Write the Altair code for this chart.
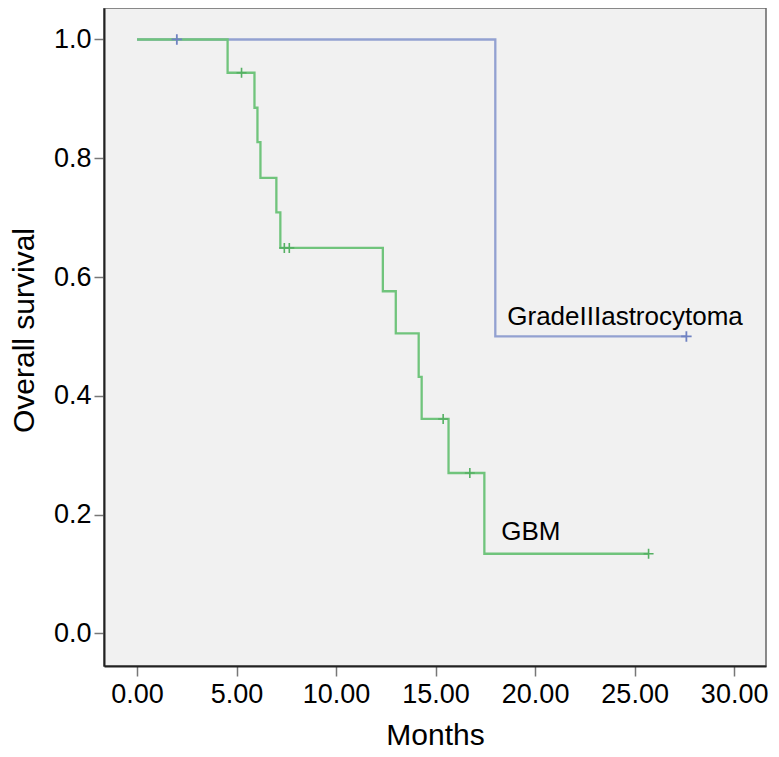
import altair as alt
import pandas as pd

# GBM Kaplan-Meier step curve
gbm_time = [0, 4.55, 5.9, 6.05, 6.2, 7.0, 7.2, 12.35, 13.0, 14.15, 14.3, 15.65, 17.45, 25.7]
gbm_surv = [1.0, 0.944, 0.885, 0.827, 0.767, 0.709, 0.649, 0.576, 0.505, 0.432, 0.361, 0.270, 0.134, 0.134]
gbm_cens_time = [5.25, 7.4, 7.65, 15.38, 16.72, 25.7]
gbm_cens_surv = [0.944, 0.649, 0.649, 0.361, 0.270, 0.134]

# Grade III astrocytoma
ast_time = [0, 18.0, 27.6]
ast_surv = [1.0, 0.5, 0.5]
ast_cens_time = [2.0, 27.6]
ast_cens_surv = [1.0, 0.5]

labels = ["GradeIIIastrocytoma", "GBM"]
label_x = [18.6, 18.3]
label_y = [0.52, 0.157]

x_ticks = [0, 5, 10, 15, 20, 25, 30]
y_ticks = [0.0, 0.2, 0.4, 0.6, 0.8, 1.0]

BLUE_LINE = "#93a1d1"
BLUE_MARK = "#6f82c2"
GREEN_LINE = "#70c47c"
GREEN_MARK = "#55b063"
FONT = "Liberation Sans"

gbm_df = pd.DataFrame({"t": gbm_time, "s": gbm_surv})
ast_df = pd.DataFrame({"t": ast_time, "s": ast_surv})
gbm_c = pd.DataFrame({"t": gbm_cens_time, "s": gbm_cens_surv})
ast_c = pd.DataFrame({"t": ast_cens_time, "s": ast_cens_surv})
lab_df = pd.DataFrame({"t": label_x, "s": label_y, "label": labels})

xscale = alt.Scale(domain=[-1.66, 31.6], nice=False, zero=False)
yscale = alt.Scale(domain=[-0.055, 1.053], nice=False, zero=False)

xenc = alt.X("t:Q", scale=xscale, title="Months",
             axis=alt.Axis(values=x_ticks, format=".2f", grid=False,
                           labelFontSize=27, titleFontSize=30, labelFont=FONT, titleFont=FONT,
                           labelColor="#000", titleColor="#000", labelPadding=5,
                           tickSize=10, tickColor="#777", tickWidth=1.5,
                           domainColor="#222", domainWidth=2, titlePadding=13,
                           titleFontWeight="normal", labelFlush=False))
yenc = alt.Y("s:Q", scale=yscale, title="Overall survival",
             axis=alt.Axis(values=y_ticks, format=".1f", grid=False,
                           labelFontSize=27, titleFontSize=30, labelFont=FONT, titleFont=FONT,
                           labelColor="#000", titleColor="#000", labelPadding=3,
                           tickSize=10, tickColor="#777", tickWidth=1.5,
                           domainColor="#222", domainWidth=2, titlePadding=14,
                           titleY=322,
                           titleFontWeight="normal", labelFlush=False))

cross = "M-1,0L1,0M0,-1L0,1"

ast_line = alt.Chart(ast_df).mark_line(interpolate="step-after", color=BLUE_LINE, strokeWidth=2.3).encode(x=xenc, y=yenc)
gbm_line = alt.Chart(gbm_df).mark_line(interpolate="step-after", color=GREEN_LINE, strokeWidth=2.3).encode(x="t:Q", y="s:Q")
ast_pts = alt.Chart(ast_c).mark_point(shape=cross, size=110, filled=False, color=BLUE_MARK, strokeWidth=1.8, opacity=1).encode(x="t:Q", y="s:Q")
gbm_pts = alt.Chart(gbm_c).mark_point(shape=cross, size=100, filled=False, color=GREEN_MARK, strokeWidth=1.6, opacity=1).encode(x="t:Q", y="s:Q")
txt = alt.Chart(lab_df).mark_text(align="left", baseline="alphabetic", fontSize=26, font=FONT, color="#000").encode(x="t:Q", y="s:Q", text="label:N")

chart = alt.layer(ast_line, gbm_line, ast_pts, gbm_pts, txt).properties(
    width=662, height=658,
    autosize=alt.AutoSizeParams(type="none"),
    padding={"left": 96, "top": 0, "right": 5, "bottom": 83},
).configure_view(fill="#f1f1f1", stroke="#666", strokeWidth=1.5)

chart.save("out.html", embed_options={"renderer": "svg", "actions": False})
